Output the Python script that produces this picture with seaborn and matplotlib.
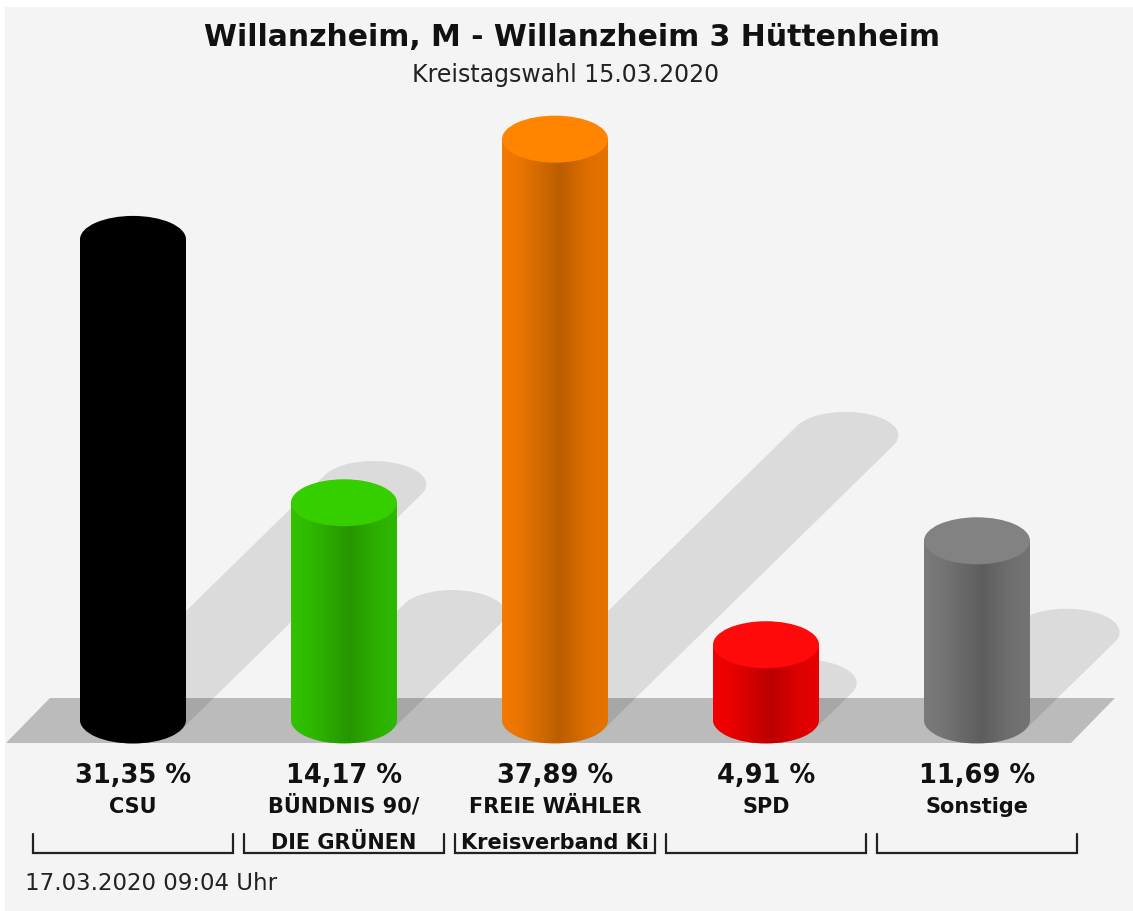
import numpy as np
import matplotlib
matplotlib.use("Agg")
import matplotlib.pyplot as plt
import seaborn as sns
from matplotlib.patches import Ellipse, Polygon, Rectangle
from matplotlib.transforms import blended_transform_factory

# ---------------- data ----------------
title = "Willanzheim, M - Willanzheim 3 Hüttenheim"
subtitle = "Kreistagswahl 15.03.2020"
footer = "17.03.2020 09:04 Uhr"
label_line1 = ["CSU", "BÜNDNIS 90/", "FREIE WÄHLER", "SPD", "Sonstige"]
label_line2 = ["", "DIE GRÜNEN", "Kreisverband Ki", "", ""]
values = [31.35, 14.17, 37.89, 4.91, 11.69]
body_colors = ["#000000", "#33cc00", "#ff8000", "#ff0000", "#808080"]
top_colors = ["#000000", "#35cf00", "#ff8400", "#ff0a0a", "#828282"]

# ---------------- geometry (pixels) ----------------
W, H = 1133, 911
X0PX, XSTEP = 133.0, 211.0     # first bar centre, spacing
Y0PX, YPX = 720.0, 15.33       # baseline y (px from top), px per percent
BW = 106.0 / XSTEP             # bar width in category units
EH = 2 * 23.5 / YPX            # ellipse full height in data units


def to_data(xp, yp):
    return ((xp - X0PX) / XSTEP, (Y0PX - yp) / YPX)


sns.set_theme(style="white")
plt.rcParams["font.family"] = ["DejaVu Sans"]

fig = plt.figure(figsize=(W / 100, H / 100), dpi=100, facecolor="white")
fig.add_artist(Rectangle((5 / W, 0), 1, 1 - 7 / H, transform=fig.transFigure,
                         facecolor="#f4f4f4", edgecolor="none", zorder=0))
ax = fig.add_axes([0, 0, 1, 1])
ax.set_facecolor("none")

# bars through seaborn
sns.barplot(x=label_line1, y=values, hue=label_line1, order=label_line1,
            hue_order=label_line1, palette=body_colors, saturation=1,
            width=BW, legend=False, ax=ax, linewidth=0, zorder=3)

bar_patches = {}
for p in list(ax.patches):
    i = int(round(p.get_x() + p.get_width() / 2))
    bar_patches[i] = p

# floor
floor_px = [(6, 743), (50, 698), (1115, 698), (1071, 743)]
ax.add_patch(Polygon([to_data(*q) for q in floor_px], closed=True,
                     facecolor="#bbbbbb", edgecolor="none", zorder=1))


def hull(points):
    pts = sorted(map(tuple, points))
    def cross(o, a, b):
        return (a[0] - o[0]) * (b[1] - o[1]) - (a[1] - o[1]) * (b[0] - o[0])
    lower, upper = [], []
    for p in pts:
        while len(lower) >= 2 and cross(lower[-2], lower[-1], p) <= 0:
            lower.pop()
        lower.append(p)
    for p in reversed(pts):
        while len(upper) >= 2 and cross(upper[-2], upper[-1], p) <= 0:
            upper.pop()
        upper.append(p)
    return lower[:-1] + upper[:-1]


t = np.linspace(0, 2 * np.pi, 120)
tb = np.linspace(np.pi, 2 * np.pi, 60)   # lower half of an ellipse, left->right
shade = np.zeros((1, 256, 4))
shade[..., 3] = np.interp(np.linspace(0, 1, 256),
                          [0, 0.15, 0.55, 0.8, 1.0],
                          [0.05, 0.08, 0.27, 0.14, 0.10])

for i, p in bar_patches.items():
    v = p.get_height()
    xc = p.get_x() + p.get_width() / 2
    bw = p.get_width()
    col = body_colors[i]
    # shadow
    dx = 0.5 * v * YPX / XSTEP
    dy = 0.49 * v
    ex = bw / 2 * np.cos(t)
    ey = EH / 2 * np.sin(t)
    pts = np.vstack([np.column_stack([xc + ex, ey]),
                     np.column_stack([xc + dx + ex, dy + ey])])
    ax.add_patch(Polygon(hull(pts), closed=True, facecolor="black",
                         alpha=0.10, edgecolor="none", zorder=2))
    # bottom ellipse (drawn above the bar to hide the seam)
    ax.add_patch(Ellipse((xc, 0), bw, EH, facecolor=col, edgecolor="none",
                         zorder=3.1))
    # body outline: rectangle + lower half ellipse, used to clip shading
    outline = [(xc - bw / 2, v)]
    outline += list(zip(xc + bw / 2 * np.cos(tb), EH / 2 * np.sin(tb)))
    outline += [(xc + bw / 2, v)]
    clip = Polygon(outline, closed=True, facecolor="none", edgecolor="none")
    ax.add_patch(clip)
    im = ax.imshow(shade, extent=[xc - bw / 2, xc + bw / 2, -EH / 2, v],
                   aspect="auto", interpolation="bilinear", zorder=4)
    im.set_clip_path(clip)
    # top face
    ax.add_patch(Ellipse((xc, v), bw, EH, facecolor=top_colors[i],
                         edgecolor="none", zorder=5))

ax.set_xlim(-X0PX / XSTEP, (W - X0PX) / XSTEP)
ax.set_ylim((Y0PX - H) / YPX, Y0PX / YPX)
ax.axis("off")

# ---------------- texts ----------------
tr = blended_transform_factory(ax.transData, fig.transFigure)


def fy(yp):
    return 1 - yp / H


fig.text(572 / W, fy(46), title, ha="center", va="baseline",
         fontsize=21.5, fontweight="bold", color="#111111")
fig.text(566 / W, fy(82), subtitle, ha="center", va="baseline",
         fontsize=17, color="#222222")

for i, v in enumerate(values):
    pct = f"{v:.2f}".replace(".", ",") + " %"
    ax.text(i, fy(783), pct, transform=tr, ha="center", va="baseline",
            fontsize=18.5, fontweight="bold", color="#111111")
    ax.text(i, fy(813), label_line1[i], transform=tr, ha="center",
            va="baseline", fontsize=15, fontweight="bold", color="#111111")
    if label_line2[i]:
        ax.text(i, fy(849), label_line2[i], transform=tr, ha="center",
                va="baseline", fontsize=15, fontweight="bold", color="#111111")
    half = 100 / XSTEP
    ax.plot([i - half, i - half, i + half, i + half],
            [fy(834), fy(853), fy(853), fy(834)], transform=tr,
            color="#222222", lw=1.6, solid_joinstyle="miter", zorder=6)

fig.text(25 / W, fy(890), footer, ha="left", va="baseline",
         fontsize=16.5, color="#222222")

fig.savefig("out.png", dpi=100, facecolor="white")
